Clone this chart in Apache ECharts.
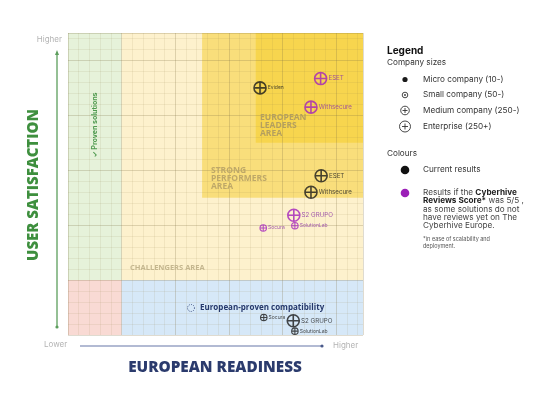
<!DOCTYPE html>
<html>
<head>
<meta charset="utf-8">
<script src="https://cdn.jsdelivr.net/npm/echarts@6/dist/echarts.min.js"></script>
<style>
  html, body { margin: 0; padding: 0; background: #fff; }
  #chart { width: 550px; height: 396px; }
</style>
</head>
<body>
<div id="chart"></div>
<script>
// companies placed on the readiness / satisfaction map
var names        = ['Eviden', 'ESET', 'Withsecure', 'ESET', 'Withsecure', 'S2 GRUPO', 'SolutionLab', 'Socura', 'Socura', 'S2 GRUPO', 'SolutionLab']
var readiness    = [3.58, 4.71, 4.53, 4.72, 4.53, 4.21, 4.23, 3.64, 3.65, 4.20, 4.23]
var satisfaction = [4.50, 4.67, 4.15, 2.90, 2.60, 2.18, 1.99, 1.95, 0.32, 0.26, 0.07]
var sizeClass    = ['enterprise', 'enterprise', 'enterprise', 'enterprise', 'enterprise', 'enterprise', 'small', 'small', 'small', 'enterprise', 'small']
var resultType   = ['current', 'cyberhive', 'cyberhive', 'current', 'current', 'cyberhive', 'cyberhive', 'cyberhive', 'current', 'current', 'current']

// zones: [x0, y0, x1, y1]
var zoneNames  = ['proven', 'red', 'blue', 'challengers', 'strong', 'leaders']
var zoneBounds = [[0, 1, 1, 5.5], [0, 0, 1, 1], [1, 0, 5.5, 1], [1, 1, 5.5, 5.5], [2.5, 2.5, 5.5, 5.5], [3.5, 3.5, 5.5, 5.5]]

var zoneColors = {
    proven: '#e6f2da', red: '#f9dad4', blue: '#d6e8f8',
    challengers: '#fdf1cd', strong: '#f9de7b', leaders: '#f7d54e'
}
var typeColors = { current: '#1a1a1a', cyberhive: '#a220bd' }
var labelColors = { current: '#222', cyberhive: '#8c34a6' }
var symbolSizes = { enterprise: 12, small: 6.5 }
var smallLabels = ['Eviden', 'Socura', 'SolutionLab']

var plusCircle = 'path://M10,0A10,10,0,1,1,10,20A10,10,0,1,1,10,0ZM0,10L20,10M10,0L10,20'

var points = []
for (var i = 0; i < names.length; i++) {
    var t = resultType[i]
    var s = sizeClass[i]
    points.push({
        name: names[i],
        value: [readiness[i], satisfaction[i]],
        symbolSize: symbolSizes[s],
        itemStyle: { color: 'rgba(0,0,0,0)', borderColor: typeColors[t], borderWidth: s == 'small' ? 1.1 : 1.6 },
        label: {
            color: labelColors[t],
            fontSize: smallLabels.indexOf(names[i]) >= 0 ? 5 : 6.2
        }
    })
}

var areas = []
zoneBounds.forEach(function (b, i) {
    areas.push([
        { xAxis: b[0], yAxis: b[1], itemStyle: { color: zoneColors[zoneNames[i]], opacity: 1 } },
        { xAxis: b[2], yAxis: b[3] }
    ])
})

function valAxis(interval, lineColor, show) {
    return {
        type: 'value', min: 0, max: 5.5, interval: interval, z: 3,
        axisLine: { show: false }, axisTick: { show: false }, axisLabel: { show: false },
        splitLine: { show: show, lineStyle: { color: lineColor, width: 1 } }
    }
}

var font = 'Inter, "Open Sans", sans-serif'
var titleFont = '"Open Sans", Inter, sans-serif'
var legendFont = '8.2px ' + font

var graphics = [
    // y axis arrow
    { type: 'line', shape: { x1: 57, y1: 53, x2: 57, y2: 327 }, style: { stroke: '#5c9e5c', lineWidth: 1.3 } },
    { type: 'polygon', shape: { points: [[57, 50], [55, 55], [59, 55]] }, style: { fill: '#5c9e5c' } },
    { type: 'circle', shape: { cx: 57, cy: 327, r: 1.6 }, style: { fill: '#5c9e5c' } },
    { type: 'text', x: 62, y: 40, style: { text: 'Higher', fill: '#b3b3b3', font: '8px ' + font, align: 'right', verticalAlign: 'middle' } },
    { type: 'text', x: 34, y: 185, rotation: Math.PI / 2, style: { text: 'USER SATISFACTION', fill: '#3e8f3e', font: '800 15px ' + titleFont, align: 'center', verticalAlign: 'middle' } },
    // x axis arrow
    { type: 'line', shape: { x1: 80, y1: 346, x2: 322, y2: 346 }, style: { stroke: '#98a3c4', lineWidth: 1.6 } },
    { type: 'circle', shape: { cx: 322, cy: 346, r: 1.6 }, style: { fill: '#4a5a8a' } },
    { type: 'text', x: 44, y: 345, style: { text: 'Lower', fill: '#b3b3b3', font: '8px ' + font, verticalAlign: 'middle' } },
    { type: 'text', x: 333, y: 346, style: { text: 'Higher', fill: '#b3b3b3', font: '8px ' + font, verticalAlign: 'middle' } },
    { type: 'text', x: 215, y: 368, style: { text: 'EUROPEAN READINESS', fill: '#2b3b6d', font: '800 15.3px ' + titleFont, align: 'center', verticalAlign: 'middle' } },
    // zone labels
    { type: 'text', x: 95, y: 125, rotation: Math.PI / 2, z: 20, style: { text: '✓ Proven solutions', fill: '#4f9a4f', font: 'bold 7px ' + font, align: 'center', verticalAlign: 'middle' } },
    { type: 'text', x: 260, y: 114, z: 20, style: { text: 'EUROPEAN\nLEADERS\nAREA', fill: '#b49f5e', font: 'bold 8.5px ' + titleFont, lineHeight: 8, verticalAlign: 'top' } },
    { type: 'text', x: 211, y: 167, z: 20, style: { text: 'STRONG\nPERFORMERS\nAREA', fill: '#bea868', font: 'bold 8.5px ' + titleFont, lineHeight: 8, verticalAlign: 'top' } },
    { type: 'text', x: 130, y: 268, z: 20, style: { text: 'CHALLENGERS AREA', fill: '#c4b68e', font: 'bold 7.5px ' + titleFont, verticalAlign: 'middle' } },
    { type: 'circle', z: 20, shape: { cx: 191, cy: 308, r: 3.5 }, style: { fill: 'none', stroke: '#3b4e80', lineWidth: 1, lineDash: [1, 1.3] } },
    { type: 'text', x: 200, y: 308, z: 20, style: { text: 'European-proven compatibility', fill: '#25386b', font: 'bold 8px ' + titleFont, verticalAlign: 'middle' } },
    // legend
    { type: 'text', x: 387, y: 51, style: { text: 'Legend', fill: '#111', font: 'bold 10px ' + font, verticalAlign: 'middle' } },
    { type: 'text', x: 387, y: 63, style: { text: 'Company sizes', fill: '#333', font: legendFont, verticalAlign: 'middle' } },
    { type: 'circle', shape: { cx: 405, cy: 79.5, r: 2.6 }, style: { fill: '#1a1a1a' } },
    { type: 'circle', shape: { cx: 405, cy: 95, r: 2.8 }, style: { fill: 'none', stroke: '#333', lineWidth: 0.9 } },
    { type: 'circle', shape: { cx: 405, cy: 95, r: 0.9 }, style: { fill: '#333' } },
    { type: 'circle', shape: { cx: 405, cy: 110.5, r: 4.3 }, style: { fill: 'none', stroke: '#333', lineWidth: 0.9 } },
    { type: 'polyline', shape: { points: [[402.5, 110.5], [407.5, 110.5]] }, style: { stroke: '#333', lineWidth: 0.9 } },
    { type: 'polyline', shape: { points: [[405, 108], [405, 113]] }, style: { stroke: '#333', lineWidth: 0.9 } },
    { type: 'circle', shape: { cx: 405, cy: 126.5, r: 5.5 }, style: { fill: 'none', stroke: '#333', lineWidth: 0.9 } },
    { type: 'polyline', shape: { points: [[402, 126.5], [408, 126.5]] }, style: { stroke: '#333', lineWidth: 0.9 } },
    { type: 'polyline', shape: { points: [[405, 123.5], [405, 129.5]] }, style: { stroke: '#333', lineWidth: 0.9 } },
    { type: 'text', x: 423, y: 80, style: { text: 'Micro company (10-)', fill: '#333', font: legendFont, verticalAlign: 'middle' } },
    { type: 'text', x: 423, y: 95, style: { text: 'Small company (50-)', fill: '#333', font: legendFont, verticalAlign: 'middle' } },
    { type: 'text', x: 423, y: 110.5, style: { text: 'Medium company (250-)', fill: '#333', font: legendFont, verticalAlign: 'middle' } },
    { type: 'text', x: 423, y: 126.5, style: { text: 'Enterprise (250+)', fill: '#333', font: legendFont, verticalAlign: 'middle' } },
    { type: 'text', x: 387, y: 154, style: { text: 'Colours', fill: '#333', font: legendFont, verticalAlign: 'middle' } },
    { type: 'circle', shape: { cx: 405, cy: 170, r: 4.3 }, style: { fill: '#111' } },
    { type: 'text', x: 423, y: 170, style: { text: 'Current results', fill: '#333', font: legendFont, verticalAlign: 'middle' } },
    { type: 'circle', shape: { cx: 405, cy: 193, r: 4.3 }, style: { fill: '#9b1fb7' } },
    { type: 'text', x: 423, y: 188.3, style: {
        text: '{n|Results if the }{b|Cyberhive}\n{b|Reviews Score*}{n| was 5/5 ,}\n{n|as some solutions do not}\n{n|have reviews yet on The}\n{n|Cyberhive Europe.}',
        verticalAlign: 'top',
        rich: {
            n: { fill: '#444', font: legendFont, lineHeight: 8.3 },
            b: { fill: '#222', font: 'bold 8.2px ' + font, lineHeight: 8.3 }
        }
    } },
    { type: 'text', x: 423, y: 236, style: { text: '*in ease of scalability and\ndeployment.', fill: '#555', font: '5.5px ' + font, lineHeight: 7, verticalAlign: 'top' } }
]

var chartDom = document.getElementById('chart')
var myChart = echarts.init(chartDom)

var option = {
    animation: false,
    backgroundColor: '#fff',
    grid: { left: 68, top: 33, width: 295, height: 302, containLabel: false },
    xAxis: [
        valAxis(0.2, 'rgba(150,130,70,0.11)', true),
        valAxis(1, 'rgba(120,105,70,0.16)', true)
    ],
    yAxis: [
        valAxis(0.2, 'rgba(150,130,70,0.11)', true),
        valAxis(1, 'rgba(120,105,70,0.16)', true)
    ],
    graphic: graphics,
    series: [
        {
            type: 'scatter',
            z: 1,
            data: [],
            silent: true,
            markArea: { silent: true, data: areas }
        },
        {
            type: 'scatter',
            z: 5,
            symbol: plusCircle,
            data: points,
            label: {
                show: true,
                position: 'right',
                distance: 1,
                formatter: '{b}',
                fontFamily: 'Inter, sans-serif'
            }
        }
    ]
}
myChart.setOption(option)
</script>
</body>
</html>
